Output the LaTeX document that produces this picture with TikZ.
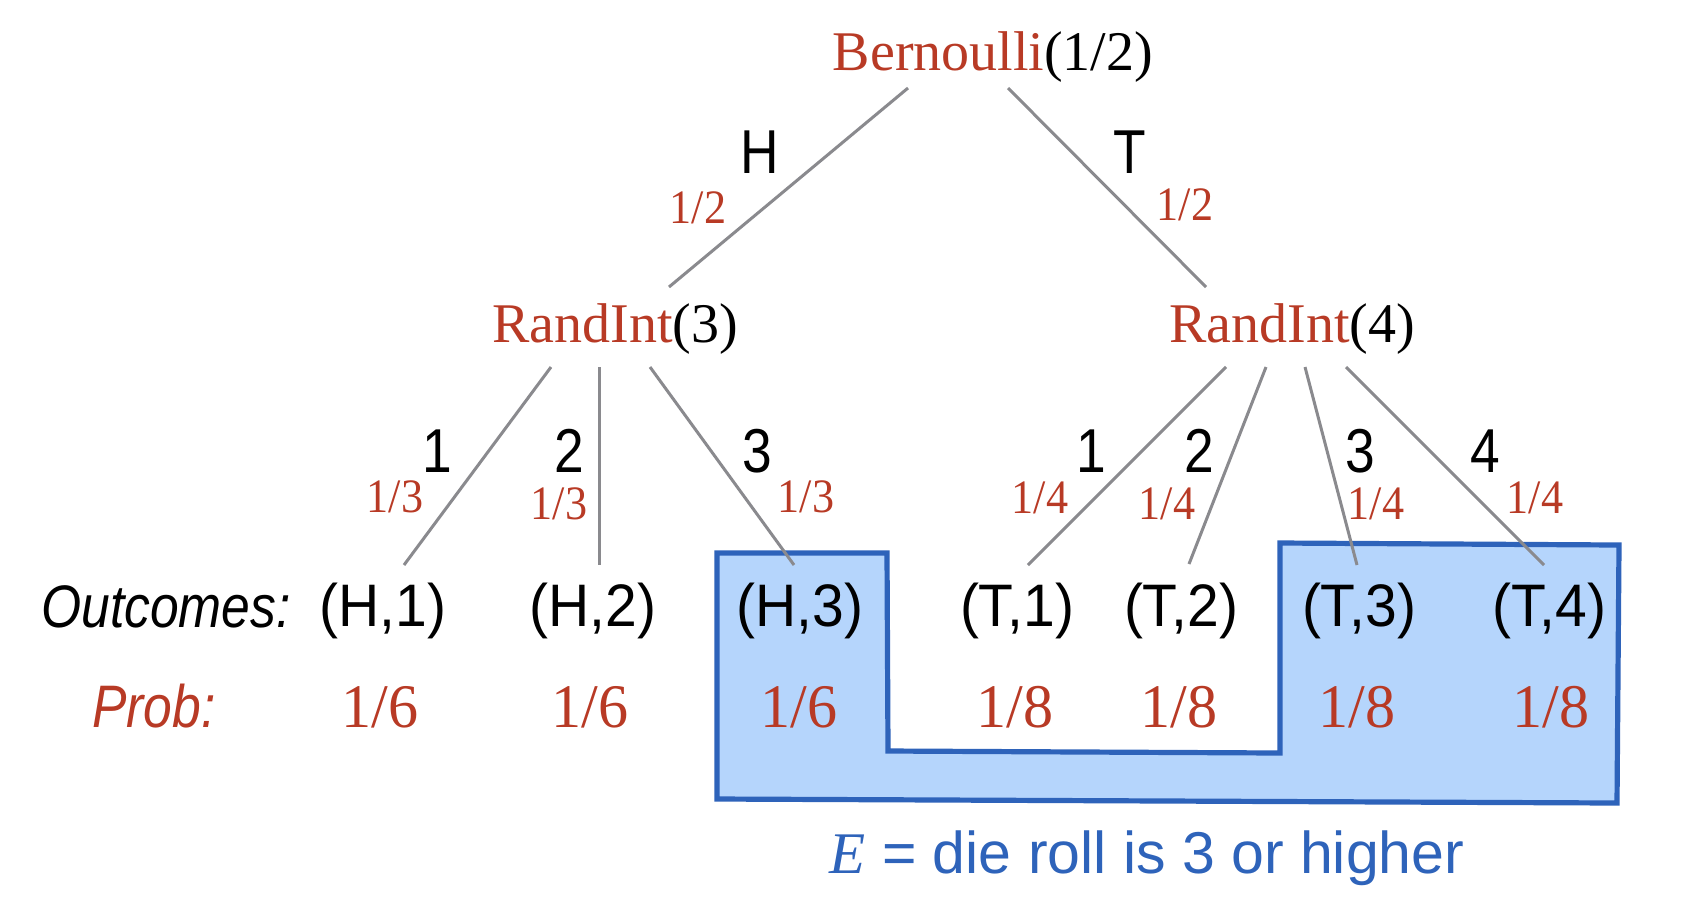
\documentclass[tikz,border=0pt]{standalone}
\usepackage{fontspec}
\setmainfont{Liberation Serif}
\newfontfamily\cserif[FakeStretch=0.97]{Liberation Serif}
\newfontfamily\sserif[FakeStretch=0.92]{Liberation Serif}
\newfontfamily\csans[FakeStretch=0.86]{Liberation Sans}
\newfontfamily\osans[FakeStretch=0.95]{Liberation Sans}
\newfontfamily\plainsans{Liberation Sans}
\definecolor{dred}{RGB}{184,58,37}
\definecolor{eblue}{RGB}{46,99,186}
\definecolor{efill}{RGB}{181,213,252}
\definecolor{lgray}{RGB}{138,138,142}
\tikzset{
  every node/.style={inner sep=0pt, anchor=base},
  fn/.style={font=\fontsize{28}{30}\selectfont},
  brlab/.style={font=\csans\fontsize{31}{34}\selectfont},
  brprob/.style={font=\sserif\fontsize{24}{26}\selectfont, text=dred},
  rowlab/.style={font=\csans\itshape\fontsize{30}{33}\selectfont},
  outc/.style={font=\osans\fontsize{30}{33}\selectfont},
  probv/.style={font=\cserif\fontsize{31}{34}\selectfont, text=dred},
  edge/.style={draw=lgray, line width=1.5pt},
  evbox/.style={draw=eblue, fill=efill, line width=2.6pt, line join=miter},
}
\begin{document}
\begin{tikzpicture}[x=0.5pt, y=-0.5pt]
\useasboundingbox (0,0) rectangle (1686,918);

% event region
\draw[evbox] (717,553) -- (887,553) -- (888,751) -- (1280,753) -- (1280,543)
  -- (1619,545) -- (1617,803) -- (717,799) -- cycle;

% tree nodes
\node[fn] (bern) at (993,70) {{\color{dred}Bernoulli}(1/2)};
\node[fn] (ri3) at (615,342) {{\color{dred}RandInt}(3)};
\node[fn] (ri4) at (1292,342) {{\color{dred}RandInt}(4)};

% connector end points
\coordinate (bl) at (908,88);
\coordinate (br) at (1008,88);
\coordinate (ri3t) at (669,287);
\coordinate (ri4t) at (1206,287);
\coordinate (a1) at (551,367);
\coordinate (a2) at (599,367);
\coordinate (a3) at (650,367);
\coordinate (c1) at (1226,367);
\coordinate (c2) at (1266,367);
\coordinate (c3) at (1305,367);
\coordinate (c4) at (1346,367);
\coordinate (h1t) at (404,565);
\coordinate (h2t) at (599,565);
\coordinate (h3t) at (794,565);
\coordinate (t1t) at (1028,565);
\coordinate (t2t) at (1189,564);
\coordinate (t3t) at (1357,565);
\coordinate (t4t) at (1544,565);

\draw[edge] (bl) -- (ri3t);
\draw[edge] (br) -- (ri4t);
\draw[edge] (a1) -- (h1t);
\draw[edge] (a2) -- (h2t);
\draw[edge] (a3) -- (h3t);
\draw[edge] (c1) -- (t1t);
\draw[edge] (c2) -- (t2t);
\draw[edge] (c3) -- (t3t);
\draw[edge] (c4) -- (t4t);

% branch labels
\node[brlab] (lH) at (760,173) {H};
\node[brlab] (lT) at (1130,173) {T};
\node[brprob] (pH) at (698,223) {1/2};
\node[brprob] (pT) at (1185,220) {1/2};

\node[brlab] (l31) at (437,472) {1};
\node[brlab] (l32) at (569,472) {2};
\node[brlab] (l33) at (757,472) {3};
\node[brprob] (p31) at (395,512) {1/3};
\node[brprob] (p32) at (559,519) {1/3};
\node[brprob] (p33) at (806,512) {1/3};

\node[brlab] (l41) at (1091,472) {1};
\node[brlab] (l42) at (1199,472) {2};
\node[brlab] (l43) at (1360,472) {3};
\node[brlab] (l44) at (1485,472) {4};
\node[brprob] (p41) at (1040,513) {1/4};
\node[brprob] (p42) at (1167,519) {1/4};
\node[brprob] (p43) at (1376,519) {1/4};
\node[brprob] (p44) at (1535,513) {1/4};

% outcomes
\node[rowlab] (olab) at (166,627) {Outcomes:};
\node[outc] (h1) at (383,626) {(H,1)};
\node[outc] (h2) at (593,626) {(H,2)};
\node[outc] (h3) at (800,626) {(H,3)};
\node[outc] (t1) at (1017,626) {(T,1)};
\node[outc] (t2) at (1181,626) {(T,2)};
\node[outc] (t3) at (1359,626) {(T,3)};
\node[outc] (t4) at (1549,626) {(T,4)};

% probabilities
\node[rowlab, text=dred] (plab) at (154,727) {Prob:};
\node[probv] (q1) at (380,727) {1/6};
\node[probv] (q2) at (590,727) {1/6};
\node[probv] (q3) at (799,727) {1/6};
\node[probv] (q4) at (1015,727) {1/8};
\node[probv] (q5) at (1179,727) {1/8};
\node[probv] (q6) at (1357,727) {1/8};
\node[probv] (q7) at (1551,727) {1/8};

% event caption
\node[text=eblue, font=\plainsans\fontsize{29.5}{32}\selectfont] (cap) at (1147,873)
  {{\rmfamily\itshape E} = die roll is 3 or higher};
\end{tikzpicture}
\end{document}
